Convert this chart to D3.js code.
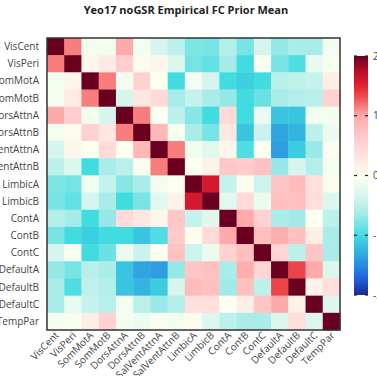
<!DOCTYPE html>
<html>
<head>
<meta charset="utf-8">
<script src="https://cdn.jsdelivr.net/npm/d3@7"></script>
<style>
  body { margin: 0; background: #fff; }
  svg { font-family: 'Open Sans', verdana, arial, sans-serif; overflow: visible; }
</style>
</head>
<body>
<div id="chart"></div>
<script>
const title = 'Yeo17 noGSR Empirical FC Prior Mean'

const networks = ['VisCent', 'VisPeri', 'SomMotA', 'SomMotB', 'DorsAttnA', 'DorsAttnB',
  'SalVentAttnA', 'SalVentAttnB', 'LimbicA', 'LimbicB', 'ContA', 'ContB', 'ContC',
  'DefaultA', 'DefaultB', 'DefaultC', 'TempPar']

// prior mean, one row per network
const priorMean = [
  [2, 1.15, -0.1, -0.1, 1.0, -0.1, -0.35, -0.5, -0.78, -0.8, -0.55, -0.8, -0.35, -0.7, -0.6, -0.6, -0.1],
  [1.15, 2, 0.1, 0.25, 0.6, 0.05, 0.1, -0.3, -0.82, -0.88, -0.62, -1.0, -0.05, -0.8, -0.95, -0.2, -0.05],
  [-0.1, 0.1, 2, 1.15, -0.1, 0.55, 0.0, -1.0, -0.1, -0.35, -1.0, -1.08, -1.0, -0.52, -0.48, -0.45, 0.2],
  [-0.1, 0.25, 1.15, 2, -0.35, 0.3, 0.45, -0.6, -0.45, -0.6, -0.7, -1.0, -0.85, -0.6, -0.55, -0.52, 0.55],
  [1.0, 0.6, -0.1, -0.35, 2, 1.15, 0.0, -0.5, -0.75, -1.0, 0.45, -1.0, -0.15, -1.15, -1.15, -0.1, -0.1],
  [-0.1, 0.05, 0.55, 0.3, 1.15, 2, 0.85, -0.05, -0.6, -0.8, 0.3, -1.15, -0.42, -1.35, -1.25, -0.5, -0.15],
  [-0.35, 0.1, 0.0, 0.45, 0.0, 0.85, 2, 1.15, -0.1, -0.25, 0.1, -0.95, 0.0, -1.4, -1.1, -0.68, -0.05],
  [-0.5, -0.3, -1.0, -0.6, -0.5, -0.05, 1.15, 2, 0.0, 0.15, 0.68, 0.62, 0.72, -0.7, -0.35, -0.55, -0.1],
  [-0.78, -0.82, -0.1, -0.45, -0.75, -0.6, -0.1, 0.0, 2, 1.6, -0.45, 0.02, -0.4, 0.7, 0.8, 0.4, 0.05],
  [-0.8, -0.88, -0.35, -0.6, -1.0, -0.8, -0.25, 0.15, 1.6, 2, -0.25, 0.45, -0.15, 0.75, 0.75, 0.4, -0.3],
  [-0.55, -0.62, -1.0, -0.7, 0.45, 0.3, 0.1, 0.68, -0.45, -0.25, 2, 1.0, 0.55, -0.6, -0.65, 0.0, -0.5],
  [-0.8, -1.0, -1.08, -1.0, -1.0, -1.15, -0.95, 0.62, 0.02, 0.45, 1.0, 2, 0.75, 0.95, 0.75, 0.2, -0.6],
  [-0.35, -0.05, -1.0, -0.85, -0.15, -0.42, 0.0, 0.72, -0.4, -0.15, 0.55, 0.75, 2, 0.5, -0.5, 0.7, -0.6],
  [-0.7, -0.8, -0.52, -0.6, -1.15, -1.35, -1.4, -0.7, 0.7, 0.75, -0.6, 0.95, 0.5, 2, 1.35, 1.0, -0.3],
  [-0.6, -0.95, -0.48, -0.55, -1.15, -1.25, -1.1, -0.35, 0.8, 0.75, -0.65, 0.75, -0.5, 1.35, 2, 0.15, 0.4],
  [-0.6, -0.2, -0.45, -0.52, -0.1, -0.5, -0.68, -0.55, 0.4, 0.4, 0.0, 0.2, 0.7, 1.0, 0.15, 2, -0.3],
  [-0.1, -0.05, 0.2, 0.55, -0.1, -0.15, -0.05, -0.1, 0.05, -0.3, -0.5, -0.6, -0.6, -0.3, 0.4, -0.3, 2]
]

const colorStops = [-2, -1.72, -1.33, -1.0, -0.66, -0.33, 0, 0.47, 1.0, 1.3, 1.52, 1.75, 2]
const colorRange = ['#1a2a90', '#1e64e0', '#30a8e0', '#40dce0', '#a0eae8', '#d8f6ee', '#fdfff0',
  '#ffd8d8', '#ffaaaa', '#f05050', '#e02030', '#b80c26', '#6a0020']
const colorTicks = [2, 1, 0, -1, -2]

const width = 377
const height = 376
const margin = { top: 38, left: 47 }
const plotW = 293
const plotH = 292

const svg = d3.select('#chart').append('svg')
  .attr('width', width)
  .attr('height', height)

const x = d3.scaleBand().domain(networks).range([margin.left, margin.left + plotW])
const y = d3.scaleBand().domain(networks).range([margin.top, margin.top + plotH])
const color = d3.scaleLinear().domain(colorStops).range(colorRange).clamp(true)

const cells = []
priorMean.forEach((row, i) => {
  row.forEach((v, j) => cells.push({ r: networks[i], c: networks[j], v }))
})

svg.append('g').selectAll('rect')
  .data(cells)
  .join('rect')
  .attr('x', d => x(d.c))
  .attr('y', d => y(d.r))
  .attr('width', x.bandwidth() + 0.4)
  .attr('height', y.bandwidth() + 0.4)
  .attr('fill', d => color(d.v))

// frame round the matrix
svg.append('rect')
  .attr('x', margin.left)
  .attr('y', margin.top)
  .attr('width', plotW)
  .attr('height', plotH)
  .attr('fill', 'none')
  .attr('stroke', '#333')
  .attr('stroke-width', 1.5)

// row labels
svg.append('g').selectAll('text')
  .data(networks)
  .join('text')
  .attr('x', margin.left - 8)
  .attr('y', d => y(d) + y.bandwidth() / 2)
  .attr('dy', '0.35em')
  .attr('text-anchor', 'end')
  .attr('font-size', 10)
  .attr('fill', '#444')
  .text(d => d)

// column labels, slanted
svg.append('g').selectAll('text')
  .data(networks)
  .join('text')
  .attr('transform', d => `translate(${x(d) + x.bandwidth() / 2 + 4},${margin.top + plotH + 6}) rotate(-45)`)
  .attr('text-anchor', 'end')
  .attr('font-size', 10)
  .attr('fill', '#444')
  .text(d => d)

// title
svg.append('text')
  .attr('x', 186)
  .attr('y', 14)
  .attr('text-anchor', 'middle')
  .attr('font-size', 11)
  .attr('font-weight', 'bold')
  .attr('fill', '#222')
  .text(title)

// colour bar
const bar = { x: 354, w: 14, top: 56, bottom: 295 }
const cb = d3.scaleLinear().domain([-2, 2]).range([bar.bottom, bar.top])

const grad = svg.append('defs').append('linearGradient')
  .attr('id', 'cbar')
  .attr('x1', 0).attr('y1', 1).attr('x2', 0).attr('y2', 0)
grad.selectAll('stop')
  .data(colorStops)
  .join('stop')
  .attr('offset', d => (d + 2) / 4)
  .attr('stop-color', d => color(d))

svg.append('rect')
  .attr('x', bar.x)
  .attr('y', bar.top)
  .attr('width', bar.w)
  .attr('height', bar.bottom - bar.top)
  .attr('fill', 'url(#cbar)')

const tickG = svg.append('g').selectAll('g')
  .data(colorTicks)
  .join('g')
  .attr('transform', d => `translate(0,${cb(d)})`)

tickG.append('line')
  .attr('x1', bar.x).attr('x2', bar.x + 3)
  .attr('stroke', '#222').attr('stroke-width', 1.2)
tickG.append('line')
  .attr('x1', bar.x + bar.w - 3).attr('x2', bar.x + bar.w)
  .attr('stroke', '#222').attr('stroke-width', 1.2)
tickG.append('text')
  .attr('x', bar.x + bar.w + 5)
  .attr('dy', '0.35em')
  .attr('font-size', 10)
  .attr('fill', '#444')
  .text(d => d)
</script>
</body>
</html>
